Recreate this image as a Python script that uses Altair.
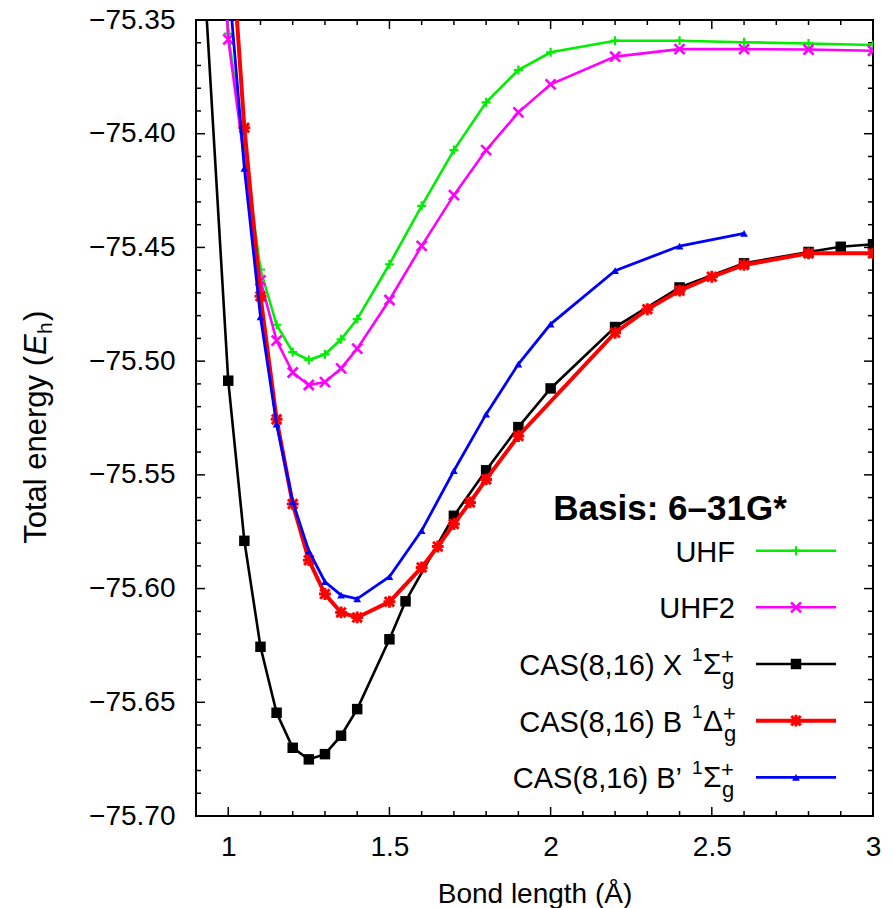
import altair as alt
import pandas as pd

FONT = "Liberation Sans"
W, H = 677, 796
XDOM = [0.9, 3.0]
YDOM = [-75.70, -75.35]

# ---- data ----
uhf_x = [0.95, 1.0, 1.1, 1.15, 1.2, 1.25, 1.3, 1.35, 1.4, 1.5, 1.6, 1.7, 1.8, 1.9, 2.0, 2.2, 2.4, 2.6, 2.8, 3.0]
uhf_y = [-75.22, -75.356, -75.4597, -75.484, -75.496, -75.4995, -75.497, -75.4904, -75.4815, -75.4574,
         -75.4317, -75.4072, -75.3862, -75.372, -75.3642, -75.3591, -75.3591, -75.3598, -75.3603, -75.361]

uhf2_x = [0.95, 1.0, 1.1, 1.15, 1.2, 1.25, 1.3, 1.35, 1.4, 1.5, 1.6, 1.7, 1.8, 1.9, 2.0, 2.2, 2.4, 2.6, 2.8, 3.0]
uhf2_y = [-75.22, -75.3585, -75.4645, -75.491, -75.505, -75.5105, -75.5092, -75.5032, -75.4945, -75.4731,
          -75.4493, -75.427, -75.4072, -75.3906, -75.3783, -75.3661, -75.3628, -75.3628, -75.363, -75.3635]

casx_x = [0.9, 1.0, 1.05, 1.1, 1.15, 1.2, 1.25, 1.3, 1.35, 1.4, 1.5, 1.55, 1.7, 1.8, 1.9, 2.0, 2.2, 2.4, 2.6, 2.8, 2.9, 3.0]
casx_y = [-75.27, -75.5086, -75.579, -75.6256, -75.6546, -75.670, -75.6751, -75.6728, -75.6647, -75.653,
          -75.6223, -75.6056, -75.568, -75.548, -75.529, -75.512, -75.485, -75.4676, -75.457, -75.452,
          -75.4497, -75.4486]

casb_x = [1.0, 1.05, 1.1, 1.15, 1.2, 1.25, 1.3, 1.35, 1.4, 1.5, 1.6, 1.65, 1.7, 1.75, 1.8, 1.9, 2.2, 2.3, 2.4, 2.5, 2.6, 2.8, 3.0]
casb_y = [-75.294, -75.3974, -75.4715, -75.5256, -75.5628, -75.5875, -75.6024, -75.6105, -75.6127, -75.6058,
          -75.5907, -75.5815, -75.5716, -75.5621, -75.552, -75.5329, -75.4875, -75.4772, -75.469, -75.4629,
          -75.4577, -75.4526, -75.4526]

casbp_x = [1.0, 1.05, 1.1, 1.15, 1.2, 1.25, 1.3, 1.35, 1.4, 1.5, 1.6, 1.7, 1.8, 1.9, 2.0, 2.2, 2.4, 2.6]
casbp_y = [-75.331, -75.4152, -75.4805, -75.5277, -75.5618, -75.5834, -75.597, -75.6029, -75.6045, -75.5948,
           -75.5745, -75.5482, -75.5233, -75.5013, -75.4837, -75.4602, -75.4494, -75.4438]

x_major = [1.0, 1.5, 2.0, 2.5, 3.0]
x_minor = [1.1, 1.2, 1.3, 1.4, 1.6, 1.7, 1.8, 1.9, 2.1, 2.2, 2.3, 2.4, 2.6, 2.7, 2.8, 2.9]
y_major = [-75.70, -75.65, -75.60, -75.55, -75.50, -75.45, -75.40, -75.35]
y_minor = [-75.69, -75.68, -75.67, -75.66, -75.64, -75.63, -75.62, -75.61, -75.59, -75.58, -75.57, -75.56,
           -75.54, -75.53, -75.52, -75.51, -75.49, -75.48, -75.47, -75.46, -75.44, -75.43, -75.42, -75.41,
           -75.39, -75.38, -75.37, -75.36]

legend_main = ["UHF", "UHF2", "CAS(8,16) X", "CAS(8,16) B", "CAS(8,16) B\u2019"]
legend_greek = ["", "", "\u03a3", "\u0394", "\u03a3"]
series_colors = ["#00ee00", "#ff00ff", "#000000", "#ff0000", "#0000ff"]
basis_text = "Basis: 6\u201331G*"
x_title = "Bond length (\u00c5)"

PLUS = "M-1,0L1,0M0,-1L0,1"
CROSS = "M-1,-1L1,1M-1,1L1,-1"
STAR = "M-1,0L1,0M0,-1L0,1M-0.8,-0.8L0.8,0.8M-0.8,0.8L0.8,-0.8"
styles = [
    dict(shape=PLUS, filled=False, size=81, mstroke=2.2, lw=2.6),
    dict(shape=CROSS, filled=False, size=100, mstroke=2.6, lw=2.6),
    dict(shape="square", filled=True, size=110, mstroke=0, lw=2.6),
    dict(shape=STAR, filled=False, size=140, mstroke=3.0, lw=4.0),
    dict(shape="triangle-up", filled=True, size=60, mstroke=0, lw=2.8),
]
series = [(uhf_x, uhf_y), (uhf2_x, uhf2_y), (casx_x, casx_y), (casb_x, casb_y), (casbp_x, casbp_y)]

xscale = alt.Scale(domain=XDOM, nice=False, zero=False)
yscale = alt.Scale(domain=YDOM, nice=False, zero=False)

XAX = alt.Axis(
    values=x_major, format="~g", title=x_title, ticks=False, tickSize=0, domain=False, grid=False,
    labelFont=FONT, labelFontSize=28, labelPadding=17, labelColor="black", labelFlush=False,
    labelOverlap=False, titleFont=FONT, titleFontSize=28, titleFontWeight="normal", titleColor="black",
    titleY=86, titleX=W / 2, titleAlign="center", titleBaseline="alphabetic")
YAX = alt.Axis(
    values=y_major, format=".2f", title=None, ticks=False, tickSize=0, domain=False, grid=False,
    labelFont=FONT, labelFontSize=28, labelPadding=21, labelColor="black", labelFlush=False,
    labelOverlap=False)


def X(field):
    return alt.X(field, scale=xscale, axis=XAX)


def Y(field):
    return alt.Y(field, scale=yscale, axis=YAX)


one = pd.DataFrame({"k": [0]})


def txt(s, x, y, size, align="left", baseline="alphabetic", angle=0, weight="normal", style="normal"):
    return alt.Chart(one).mark_text(
        font=FONT, fontSize=size, align=align, baseline=baseline, angle=angle,
        fontWeight=weight, fontStyle=style, color="black"
    ).encode(x=alt.value(x), y=alt.value(y), text=alt.value(s))


layers = []

# inward ticks on all four sides
for vals, ln in [(x_major, 9), (x_minor, 5)]:
    d = pd.DataFrame({"x": vals})
    layers.append(alt.Chart(d).mark_rule(color="black", strokeWidth=1.5).encode(
        x=X("x:Q"), y=alt.value(H - ln), y2=alt.value(H)))
    layers.append(alt.Chart(d).mark_rule(color="black", strokeWidth=1.5).encode(
        x=X("x:Q"), y=alt.value(0), y2=alt.value(ln)))
for vals, ln in [(y_major, 9), (y_minor, 5)]:
    d = pd.DataFrame({"y": vals})
    layers.append(alt.Chart(d).mark_rule(color="black", strokeWidth=1.5).encode(
        y=Y("y:Q"), x=alt.value(0), x2=alt.value(ln)))
    layers.append(alt.Chart(d).mark_rule(color="black", strokeWidth=1.5).encode(
        y=Y("y:Q"), x=alt.value(W - ln), x2=alt.value(W)))

# series
for (xs, ys), col, st in zip(series, series_colors, styles):
    d = pd.DataFrame({"x": xs, "y": ys})
    enc = dict(x=X("x:Q"), y=Y("y:Q"))
    layers.append(alt.Chart(d).mark_line(color=col, strokeWidth=st["lw"], clip=True).encode(**enc))
    if st["filled"]:
        pm = alt.Chart(d).mark_point(shape=st["shape"], filled=True, size=st["size"], color=col,
                                     opacity=1, clip=True)
    else:
        pm = alt.Chart(d).mark_point(shape=st["shape"], filled=False, size=st["size"], color=col,
                                     strokeWidth=st["mstroke"], opacity=1, clip=True)
    layers.append(pm.encode(**enc))

# y-axis title (rotated, with italic E and subscript h)
TX = -150
YA = 336
layers.append(txt("Total energy (", TX, YA, 31, align="right", angle=270))
layers.append(txt("E", TX, YA - 1, 31, align="left", angle=270, style="italic"))
layers.append(txt("h", TX + 6, YA - 22, 21, align="left", angle=270))
layers.append(txt(")", TX, YA - 35, 31, align="left", angle=270))

# legend
layers.append(txt(basis_text, 474, 500, 35, align="center", weight="bold"))
row_y = [530.7, 587.3, 644.0, 700.7, 757.3]
for i, (lab, gk, col, st) in enumerate(zip(legend_main, legend_greek, series_colors, styles)):
    ry = row_y[i]
    if gk == "":
        layers.append(txt(lab, 539, ry + 11, 29, align="right"))
    else:
        layers.append(txt(lab, 486, ry + 11, 29, align="right"))
        layers.append(txt("1", 496, ry - 3, 19))
        layers.append(txt(gk, 507, ry + 10, 30))
        gx = 525 if gk == "\u03a3" else 527
        layers.append(txt("+", gx, ry, 22))
        layers.append(txt("g", gx + 1, ry + 20, 22))
    layers.append(alt.Chart(one).mark_rule(color=col, strokeWidth=st["lw"]).encode(
        x=alt.value(560), x2=alt.value(640), y=alt.value(ry)))
    if st["filled"]:
        lm = alt.Chart(one).mark_point(shape=st["shape"], filled=True, size=st["size"], color=col, opacity=1)
    else:
        lm = alt.Chart(one).mark_point(shape=st["shape"], filled=False, size=st["size"], color=col,
                                       strokeWidth=st["mstroke"], opacity=1)
    layers.append(lm.encode(x=alt.value(600), y=alt.value(ry)))

chart = alt.layer(*layers).properties(
    width=W, height=H,
    padding={"left": 196, "top": 20, "right": 22, "bottom": 92},
    autosize=alt.AutoSizeParams(type="none"),
    background="white",
).configure_view(stroke="black", strokeWidth=2)

chart.save("out.html", embed_options={"renderer": "svg", "actions": False})
